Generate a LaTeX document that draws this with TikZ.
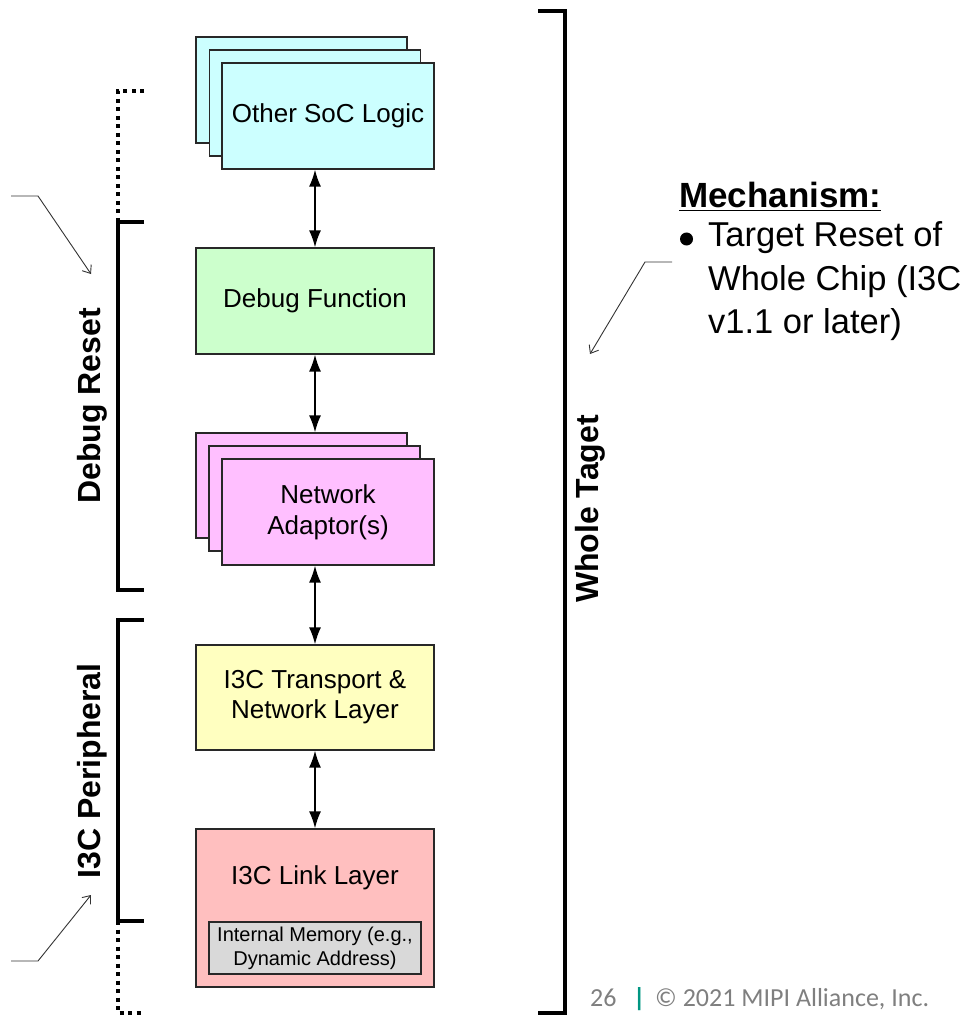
\documentclass[tikz,border=0pt]{standalone}
\usepackage{fontspec}
\setmainfont{Liberation Sans}
\newfontfamily\footfont{Carlito}
\usetikzlibrary{arrows.meta}

\definecolor{socfill}{RGB}{204,255,255}
\definecolor{dbgfill}{RGB}{204,255,204}
\definecolor{nafill}{RGB}{255,191,255}
\definecolor{tnfill}{RGB}{255,255,192}
\definecolor{llfill}{RGB}{255,191,191}
\definecolor{memfill}{RGB}{217,217,217}
\definecolor{boxline}{RGB}{40,40,40}
\definecolor{footgray}{RGB}{127,127,127}
\definecolor{footteal}{RGB}{0,150,130}

\tikzset{
  blk/.style={draw=boxline, line width=1.2pt, inner sep=0pt, align=center,
    minimum width=238pt, minimum height=106pt,
    font=\fontsize{26}{31}\selectfont},
  stackblk/.style={blk, minimum width=212pt},
  membox/.style={draw=boxline, line width=1.2pt, fill=memfill, inner sep=0pt,
    align=center, minimum width=212pt, minimum height=52pt,
    font=\fontsize{20}{24}\selectfont},
  link/.style={line width=1.7pt, {Latex[length=17pt,width=12pt]}-{Latex[length=17pt,width=12pt]}},
  brace/.style={line width=3.2pt, line join=miter},
  dotbrace/.style={line width=3.2pt, dash pattern=on 4pt off 4.5pt},
  grouplabel/.style={rotate=90, font=\bfseries\fontsize{32}{36}\selectfont},
  pointer/.style={black!80, line width=0.9pt, -{Straight Barb[length=7pt,width=11pt]}},
  bodytext/.style={anchor=base west, inner sep=0pt, font=\fontsize{34.5}{43}\selectfont},
  foot/.style={anchor=base west, inner sep=0pt, font=\footfont\fontsize{26}{30}\selectfont}
}

\begin{document}
\begin{tikzpicture}[x=1pt,y=-1pt]
\useasboundingbox (0,0) rectangle (967,1016);

% ---- stacked "Other SoC Logic" blocks
\node[stackblk, fill=socfill, minimum width=211pt] (soc3) at (301.5,90) {};
\node[stackblk, fill=socfill, minimum width=211pt] (soc2) at (315,103) {};
\node[stackblk, fill=socfill] (soc) at (328,116) {Other SoC Logic};

% ---- debug function
\node[blk, fill=dbgfill] (dbg) at (315,301) {Debug Function};

% ---- stacked network adaptors
\node[stackblk, fill=nafill, minimum width=211pt, minimum height=105pt] (na3) at (301.5,485.5) {};
\node[stackblk, fill=nafill, minimum width=211pt, minimum height=105pt] (na2) at (314.5,498.5) {};
\node[stackblk, fill=nafill] (na) at (328,512) {Network\\Adaptor(s)};

% ---- I3C transport and link layers
\node[blk, fill=tnfill, minimum height=105pt, font=\fontsize{26}{30}\selectfont] (tn) at (315,697.5) {I3C Transport \&\\Network Layer};
\node[blk, fill=llfill, minimum height=158pt] (ll) at (315,908) {};
\node[anchor=base, inner sep=0pt, font=\fontsize{26}{31}\selectfont] (lltext) at (315,884) {I3C Link Layer};
\node[membox] (mem) at (315,948) {Internal Memory (e.g.,\\Dynamic Address)};

% ---- bidirectional links
\draw[link] (dbg.north) -- (dbg.north |- soc.south);
\draw[link] (dbg.south) -- (dbg.south |- na3.north);
\draw[link] (tn.north)  -- (tn.north |- na.south);
\draw[link] (ll.north)  -- (ll.north |- tn.south);

% ---- Debug Reset bracket (dotted above the solid part)
\coordinate (drA) at (144,91);
\coordinate (drB) at (118,91);
\coordinate (drC) at (118,222);
\coordinate (drD) at (144,222);
\coordinate (drE) at (118,590);
\coordinate (drF) at (144,590);
\draw[dotbrace] (drA) -- (drB) -- (drC);
\draw[brace] (drD) -- (drC) -- (drE) -- (drF);
\node[grouplabel] (drlabel) at (92,406) {Debug Reset};

% ---- I3C Peripheral bracket (dotted below the solid part)
\coordinate (ipA) at (144,620);
\coordinate (ipB) at (118,620);
\coordinate (ipC) at (118,921);
\coordinate (ipD) at (144,921);
\coordinate (ipE) at (118,1013);
\coordinate (ipF) at (144,1013);
\draw[brace] (ipA) -- (ipB) -- (ipC) -- (ipD);
\draw[dotbrace] (ipC) -- (ipE) -- (ipF);
\node[grouplabel] (iplabel) at (92,771) {I3C Peripheral};

% ---- Whole target bracket
\coordinate (wtA) at (538,11);
\coordinate (wtB) at (565,11);
\coordinate (wtC) at (565,1013);
\coordinate (wtD) at (538,1013);
\draw[brace] (wtA) -- (wtB) -- (wtC) -- (wtD);
\node[grouplabel] (wtlabel) at (590,509) {Whole Taget};

% ---- pointer lines
\coordinate (p1s) at (11,196);
\coordinate (p1k) at (38,196);
\coordinate (p1e) at (91,274);
\draw[pointer] (p1s) -- (p1k) -- (p1e);
\coordinate (p2s) at (11,961);
\coordinate (p2k) at (38,961);
\coordinate (p2e) at (91,895);
\draw[pointer] (p2s) -- (p2k) -- (p2e);
\coordinate (p3s) at (672,262);
\coordinate (p3k) at (645,262);
\coordinate (p3e) at (590,354);
\draw[pointer] (p3s) -- (p3k) -- (p3e);

% ---- mechanism description
\node[anchor=base west, inner sep=0pt, font=\bfseries\fontsize{35}{42}\selectfont] (mech) at (679,208) {\underline{Mechanism:}};
\fill (686.5,239) circle (6.5pt);
\node[bodytext] (m1) at (708,247) {Target Reset of};
\node[bodytext] (m2) at (708,290) {Whole Chip (I3C};
\node[bodytext] (m3) at (708,333) {v1.1 or later)};

% ---- footer
\node[foot, text=footgray] (pg) at (590,1006) {26};
\node[foot, text=footteal, font=\footfont\bfseries\fontsize{26}{30}\selectfont] (bar) at (633,1006) {|};
\node[foot, text=footgray] (copy) at (655,1006) {© 2021 MIPI Alliance, Inc.};
\end{tikzpicture}
\end{document}
